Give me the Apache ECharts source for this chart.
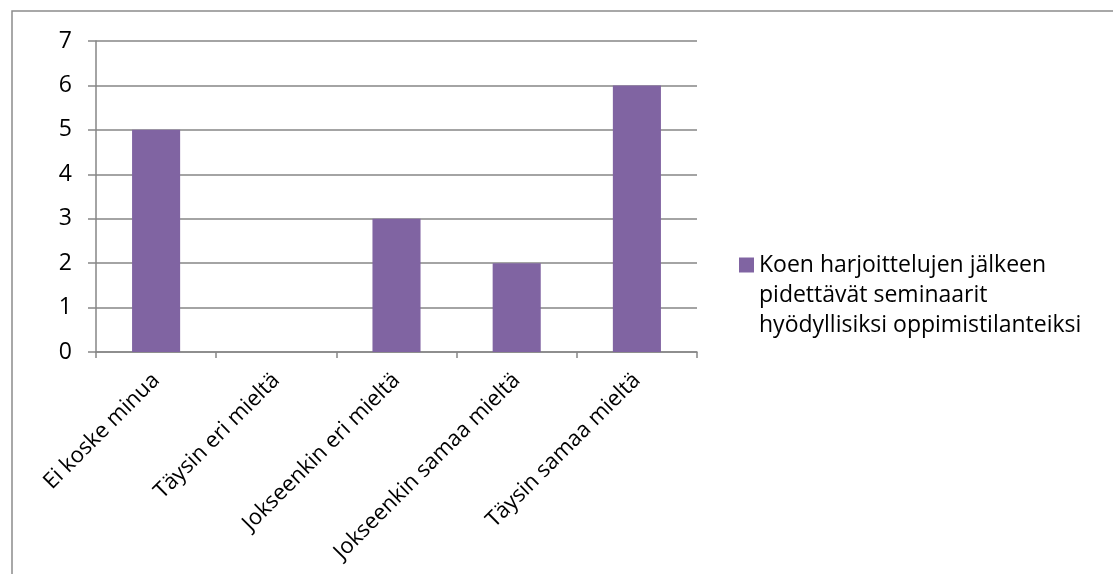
<!DOCTYPE html>
<html>
<head>
<meta charset="utf-8">
<script src="https://cdn.jsdelivr.net/npm/echarts@6/dist/echarts.min.js"></script>
<style>
  html, body { margin: 0; padding: 0; background: #fff; }
  .container { width: 1113px; height: 574px; }
</style>
</head>
<body>
<div class="container"></div>
<script>
const categories = ['Ei koske minua', 'Täysin eri mieltä', 'Jokseenkin eri mieltä', 'Jokseenkin samaa mieltä', 'Täysin samaa mieltä'];
const seriesName = 'Koen harjoittelujen jälkeen pidettävät seminaarit hyödyllisiksi oppimistilanteiksi';
const legendLines = ['Koen harjoittelujen jälkeen', 'pidettävät seminaarit', 'hyödyllisiksi oppimistilanteiksi'];
const values = [5, 0, 3, 2, 6];

(function () {
    let myChart = echarts.init(document.querySelector('.container'));
    const font = '"Open Sans", Lato, sans-serif';

    const option = {
        color: ['#8064A2'],
        animation: false,
        textStyle: { fontFamily: font },
        graphic: [
            {
                type: 'rect',
                shape: { x: 12, y: 11, width: 1200, height: 700 },
                style: { fill: 'none', stroke: '#8c8c8c', lineWidth: 1.5 },
                silent: true
            }
        ],
        legend: {
            data: [seriesName],
            left: 739,
            top: 190,
            padding: 0,
            icon: 'rect',
            itemWidth: 15,
            itemHeight: 15,
            // two empty lines on top keep the square level with the first line
            formatter: function () { return '\n\n' + legendLines.join('\n'); },
            textStyle: {
                color: '#000',
                fontSize: 23,
                lineHeight: 30,
                fontFamily: font
            }
        },
        grid: {
            left: 96,
            right: 416,
            top: 41,
            bottom: 222,
            containLabel: false
        },
        xAxis: {
            type: 'category',
            data: categories,
            axisLine: { lineStyle: { color: '#868686', width: 1.5 } },
            axisTick: { show: true, length: 6, lineStyle: { color: '#868686', width: 1.5 } },
            axisLabel: {
                interval: 0,
                rotate: 45,
                margin: 25,
                color: '#000',
                fontSize: 22,
                fontFamily: font
            }
        },
        yAxis: {
            type: 'value',
            min: 0,
            max: 7,
            interval: 1,
            axisLine: { show: true, lineStyle: { color: '#868686', width: 1.5 } },
            axisTick: { show: true, length: 8, lineStyle: { color: '#868686', width: 1.5 } },
            axisLabel: {
                color: '#000',
                fontSize: 23,
                margin: 24,
                fontFamily: font
            },
            splitLine: { lineStyle: { color: '#868686', width: 1.5 } }
        },
        series: [
            {
                name: seriesName,
                type: 'bar',
                barWidth: '40%',
                data: values
            }
        ]
    };

    myChart.setOption(option);
})();
</script>
</body>
</html>
